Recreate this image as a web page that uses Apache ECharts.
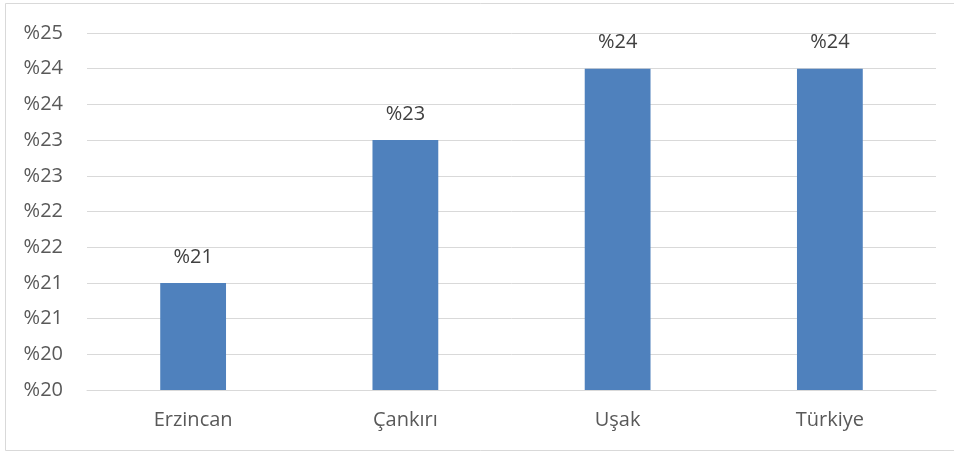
<!DOCTYPE html>
<html>
<head>
<meta charset="utf-8">
<script src="https://cdn.jsdelivr.net/npm/echarts@6/dist/echarts.min.js"></script>
<style>
html,body{margin:0;padding:0;background:#fff;}
#c{width:954px;height:452px;}
</style>
</head>
<body>
<div id="c"></div>
<script>
var categories = ["Erzincan", "Çankırı", "Uşak", "Türkiye"];
var values = [21.5, 23.5, 24.5, 24.5];
var valueLabels = ["%21", "%23", "%24", "%24"];
var tickLabels = ["%20", "%20", "%21", "%21", "%22", "%22", "%23", "%23", "%24", "%24", "%25"];
var yMin = 20, yMax = 25, yStep = 0.5;

var font = "'Open Sans', 'Noto Sans', sans-serif";
var chart = echarts.init(document.getElementById('c'), null, {renderer: 'canvas'});
chart.setOption({
  animation: false,
  backgroundColor: '#ffffff',
  graphic: [{
    type: 'rect', silent: true, z: -1,
    shape: {x: 5.5, y: 3.5, width: 960, height: 447},
    style: {fill: 'none', stroke: '#d9d9d9', lineWidth: 1}
  }],
  grid: {left: 87, right: 18, top: 33, bottom: 62, containLabel: false},
  xAxis: {
    type: 'category',
    data: categories,
    axisLine: {show: true, lineStyle: {color: '#d9d9d9', width: 1}},
    axisTick: {show: false},
    axisLabel: {color: '#595959', fontSize: 20, fontFamily: font, margin: 20}
  },
  yAxis: {
    type: 'value',
    min: yMin, max: yMax, interval: yStep,
    axisLine: {show: false},
    axisTick: {show: false},
    splitLine: {lineStyle: {color: '#d9d9d9', width: 1}},
    axisLabel: {
      color: '#595959', fontSize: 20, fontFamily: font, margin: 24,
      formatter: function (v, i) { return tickLabels[Math.round((v - yMin) / yStep)]; }
    }
  },
  series: [{
    type: 'bar',
    data: values,
    barWidth: '31%',
    itemStyle: {color: '#4f81bd'},
    label: {
      show: true, position: 'top', distance: 16,
      color: '#404040', fontSize: 20, fontFamily: font,
      formatter: function (p) { return valueLabels[p.dataIndex]; }
    }
  }]
});
</script>
</body>
</html>
